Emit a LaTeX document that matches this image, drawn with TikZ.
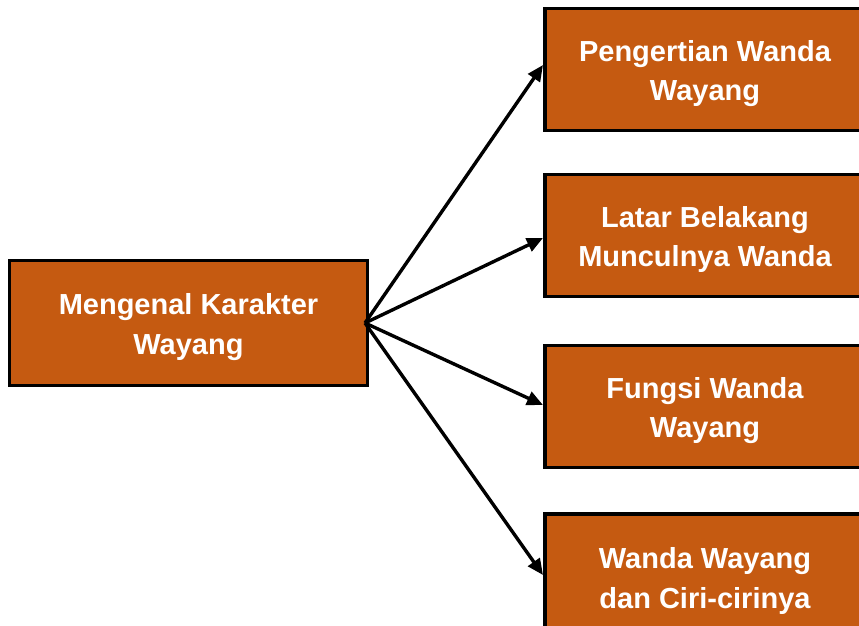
\documentclass[tikz,border=0pt]{standalone}
\usepackage{fontspec}
\setmainfont{Liberation Sans}
\usetikzlibrary{arrows.meta}
\definecolor{boxfill}{HTML}{C55A11}
\begin{document}
\begin{tikzpicture}[x=1pt,y=-1pt,
  box/.style={draw=black,line width=3.5pt,fill=boxfill,inner sep=0pt},
  leftbox/.style={box,minimum width=358pt,minimum height=125pt},
  rightbox/.style={box,minimum width=320pt,minimum height=122pt},
  txt/.style={text=white,align=center,inner sep=0pt,
    font=\bfseries\fontsize{29}{39.5}\selectfont},
  conn/.style={line width=3.4pt,-{Triangle[length=16pt,width=14pt]}}]
\useasboundingbox (0,0) rectangle (859,626);
\clip (0,0) rectangle (859,626);
\node[leftbox] (L) at (188.5,323) {};
\node[rightbox] (b1) at (705,69.5) {};
\node[rightbox] (b2) at (705,235.5) {};
\node[rightbox] (b3) at (705,406.5) {};
\node[rightbox] (b4) at (705,575) {};
\node[txt] (Lt) at ([yshift=-4pt]L.center) {Mengenal Karakter\\Wayang};
\node[txt] (b1t) at ([yshift=-4pt]b1.center) {Pengertian Wanda\\Wayang};
\node[txt] (b2t) at ([yshift=-4pt]b2.center) {Latar Belakang\\Munculnya Wanda};
\node[txt] (b3t) at ([yshift=-4pt]b3.center) {Fungsi Wanda\\Wayang};
\node[txt] (b4t) at ([yshift=-6pt]b4.center) {Wanda Wayang\\dan Ciri-cirinya};
\coordinate (o) at (365,323);
\coordinate (t1) at (543,65);
\coordinate (t2) at (543,238);
\coordinate (t3) at (543,405);
\coordinate (t4) at (543,575);
\draw[conn] (o) -- (t1);
\draw[conn] (o) -- (t2);
\draw[conn] (o) -- (t3);
\draw[conn] (o) -- (t4);
\end{tikzpicture}
\end{document}
